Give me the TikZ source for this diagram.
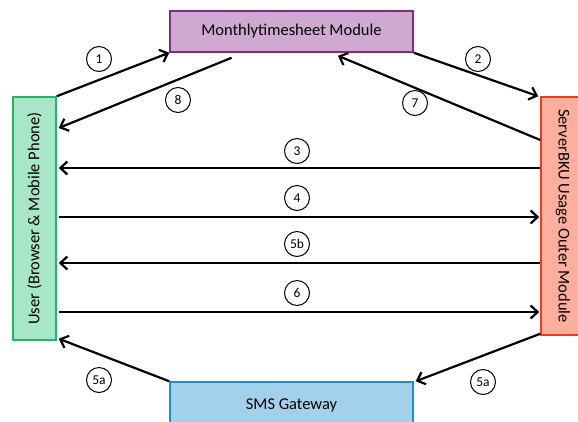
\documentclass[tikz,border=0pt]{standalone}
\usepackage{fontspec}
\setmainfont{Carlito}
\usepackage{tikz}
\usetikzlibrary{positioning, arrows.meta, calc}

\definecolor{monthfill}{HTML}{CFA9CF}
\definecolor{monthline}{HTML}{7E2E84}
\definecolor{userfill}{HTML}{A7E7C7}
\definecolor{userline}{HTML}{27B565}
\definecolor{serverfill}{HTML}{FDAE9D}
\definecolor{serverline}{HTML}{EE3A1F}
\definecolor{smsfill}{HTML}{A3D1EB}
\definecolor{smsline}{HTML}{1C8DD0}

\tikzset{
  module/.style={draw, line width=1.5pt, minimum width=243pt, minimum height=41pt,
    inner sep=0pt, font=\fontsize{16.5}{19}\selectfont},
  sidebox/.style={draw, line width=1.5pt, minimum width=243pt, minimum height=43pt,
    inner sep=0pt, font=\fontsize{16.5}{19}\selectfont},
  flow/.style={line width=2.2pt, -{Straight Barb[length=7pt,width=13pt,line width=2.2pt]}},
  stepno/.style={draw, circle, line width=1pt, minimum size=25pt, inner sep=0pt,
    font=\fontsize{13.5}{15}\selectfont},
}

\begin{document}
\begin{tikzpicture}[x=1pt, y=-1pt]
  \useasboundingbox (0,0) rectangle (578,421);
  \clip (0,0) rectangle (578,421);

  % Modules
  \node[module, fill=monthfill, draw=monthline] (month) at (291.5,31.5) {Monthlytimesheet Module};
  \node[module, fill=smsfill, draw=smsline, minimum height=46pt] (sms) at (291.5,405) {SMS Gateway};

  % Side boxes (rotated, so south is the inner side)
  \node[sidebox, fill=userfill, draw=userline, rotate=90] (user) at (34.5,218.5)
    {User (Browser \& Mobile Phone)};
  \node[sidebox, fill=serverfill, draw=serverline, rotate=-90, minimum width=238pt, minimum height=44pt]
    (server) at (563,216) {ServerBKU Usage Outer Module};

  % Upper arrows
  \draw[flow] (user.south east) -- (month.south west);
  \draw[flow] ($(month.south west)!0.255!(month.south east)+(0,5)$) -- ([xshift=2pt]user.south |- 0,128);
  \draw[flow] (month.south east) -- ([xshift=-2pt]server.south west);
  \draw[flow] (server.south |- 0,140) -- ($(month.south west)!0.69!(month.south east)+(0,3)$);

  % Horizontal arrows
  \draw[flow] (server.south |- 0,168) -- ([xshift=2pt]user.south |- 0,168);
  \draw[flow] ([xshift=2pt]user.south |- 0,217) -- ([xshift=-1pt]server.south |- 0,217);
  \draw[flow] (server.south |- 0,263) -- ([xshift=2pt]user.south |- 0,263);
  \draw[flow] ([xshift=2pt]user.south |- 0,312) -- ([xshift=-1pt]server.south |- 0,312);

  % Lower arrows via gateway
  \draw[flow] (sms.north west) -- ([shift={(2pt,2pt)}]user.south west);
  \draw[flow] ([yshift=2pt]server.south east) -- ([xshift=2pt]sms.north east);

  % Step numbers
  \node[stepno] (s1) at (99,59) {1};
  \node[stepno] (s8) at (178,100) {8};
  \node[stepno] (s2) at (478,59) {2};
  \node[stepno] (s7) at (415,103) {7};
  \node[stepno] (s3) at (297,151) {3};
  \node[stepno] (s4) at (297,198) {4};
  \node[stepno] (s5b) at (297,244) {5b};
  \node[stepno] (s6) at (297,293) {6};
  \node[stepno] (s5l) at (99,380) {5a};
  \node[stepno] (s5r) at (483,382) {5a};
\end{tikzpicture}
\end{document}
